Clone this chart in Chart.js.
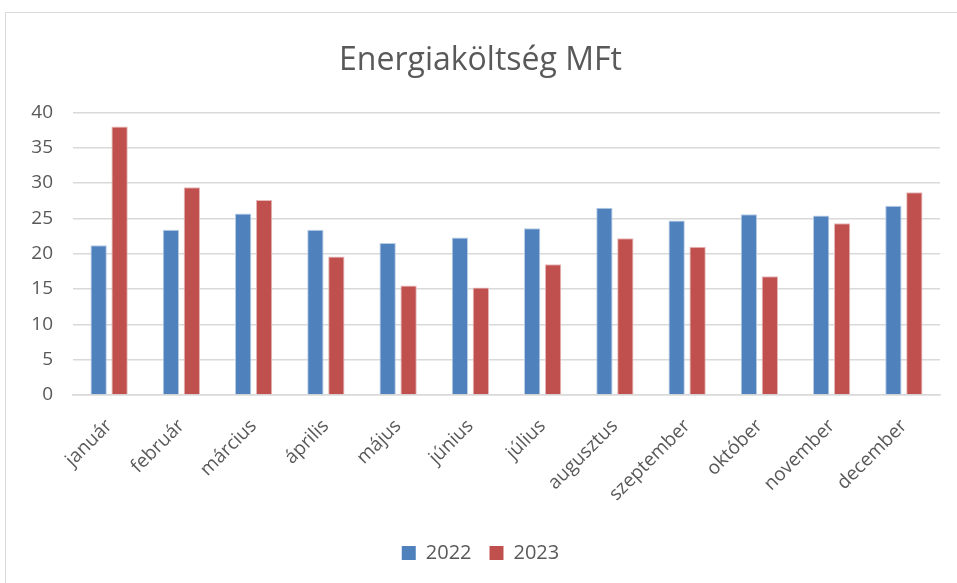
<!DOCTYPE html>
<html>
<head>
<meta charset="utf-8">
<script src="https://cdn.jsdelivr.net/npm/chart.js@4/dist/chart.umd.min.js"></script>
<style>
  html, body { margin:0; padding:0; background:#fff; overflow:hidden; }
  #frame { position:absolute; left:5px; top:12px; width:990px; height:580px; border:1px solid #d9d9d9; box-sizing:border-box; }
  #chartEnergia { position:absolute; left:0; top:0; }
</style>
</head>
<body>
<div id="frame"><canvas id="chartEnergia" width="946" height="571"></canvas></div>
<script>
const honapok = ['január','február','március','április','május','június','július','augusztus','szeptember','október','november','december'];
const ertek2022 = [21.2, 23.4, 25.7, 23.4, 21.5, 22.3, 23.6, 26.5, 24.7, 25.6, 25.4, 26.8];
const ertek2023 = [38.0, 29.4, 27.6, 19.6, 15.5, 15.2, 18.5, 22.2, 21.0, 16.8, 24.3, 28.7];
const yTicks = [0, 5, 10, 15, 20, 25, 30, 35, 40];

const fontCsalad = "'Open Sans', 'Noto Sans', sans-serif";
const szurke = '#595959';

new Chart(document.getElementById('chartEnergia'), {
  type: 'bar',
  data: {
    labels: honapok,
    datasets: [
      { label:'2022', data: ertek2022, backgroundColor:'#4f81bd', borderColor:'#b9cde5', borderWidth:1,
        barPercentage:0.78, categoryPercentage:0.58 },
      { label:'2023', data: ertek2023, backgroundColor:'#c0504d', borderColor:'#e6b9b8', borderWidth:1,
        barPercentage:0.78, categoryPercentage:0.58 }
    ]
  },
  options: {
    responsive:false, animation:false,
    layout:{ padding:{ left:15, right:12, top:29, bottom:11 } },
    plugins:{
      title:{ display:true, text:'Energiaköltség MFt', color:szurke,
        font:{ family:fontCsalad, size:32, weight:'normal' }, padding:{ top:0, bottom:32 } },
      legend:{ position:'bottom',
        labels:{ color:szurke, font:{ family:fontCsalad, size:20 }, boxWidth:14, boxHeight:14, padding:18,
          generateLabels: ch => ch.data.datasets.map((d,i) => ({ text:d.label, fillStyle:d.backgroundColor,
            strokeStyle:d.backgroundColor, lineWidth:0, fontColor:szurke, datasetIndex:i })) } },
      tooltip:{ enabled:false }
    },
    scales:{
      y:{ min:0, max:40, afterBuildTicks: ax => { ax.ticks = yTicks.map(v => ({ value:v })); },
        border:{ display:false },
        grid:{ color:'#d9d9d9', lineWidth:1.5, drawTicks:false },
        ticks:{ color:szurke, font:{ family:fontCsalad, size:19 }, padding:20 },
        afterFit: ax => { ax.width = 52; } },
      x:{ grid:{ display:false }, border:{ color:'#d9d9d9', width:1.5 },
        ticks:{ color:szurke, font:{ family:fontCsalad, size:19 }, minRotation:45, maxRotation:45, padding:12 },
        afterFit: ax => { ax.height = 130; } }
    }
  }
});
</script>
</body>
</html>
